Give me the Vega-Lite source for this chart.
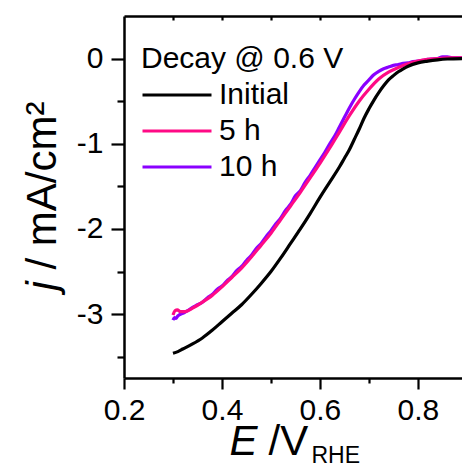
{
  "$schema": "https://vega.github.io/schema/vega-lite/v6.json",
  "width": 338,
  "height": 362,
  "autosize": {"type": "none"},
  "padding": {"left": 124, "top": 16, "right": 0, "bottom": 92},
  "background": "white",
  "config": {
    "view": {"stroke": null},
    "font": "Liberation Sans",
    "axis": {
      "grid": false,
      "domainColor": "black",
      "tickColor": "black",
      "labelColor": "black",
      "titleColor": "black",
      "domainWidth": 2.5,
      "tickWidth": 2.2,
      "labelFont": "Liberation Sans",
      "titleFont": "Liberation Sans",
      "titleFontWeight": "normal",
      "labelFontSize": 30,
      "labelFlush": false,
      "labelOverlap": false,
      "titleLimit": 500
    }
  },
  "data": {
    "values": [
      {"s": "10 h", "E": 0.300, "j": -3.07}, {"s": "10 h", "E": 0.303, "j": -3.04}, {"s": "10 h", "E": 0.306, "j": -3.05},
      {"s": "10 h", "E": 0.31, "j": -3.02}, {"s": "10 h", "E": 0.32, "j": -2.99}, {"s": "10 h", "E": 0.33, "j": -2.96},
      {"s": "10 h", "E": 0.34, "j": -2.92}, {"s": "10 h", "E": 0.35, "j": -2.89}, {"s": "10 h", "E": 0.36, "j": -2.86},
      {"s": "10 h", "E": 0.37, "j": -2.81}, {"s": "10 h", "E": 0.38, "j": -2.77}, {"s": "10 h", "E": 0.39, "j": -2.71},
      {"s": "10 h", "E": 0.40, "j": -2.67}, {"s": "10 h", "E": 0.41, "j": -2.61}, {"s": "10 h", "E": 0.42, "j": -2.56},
      {"s": "10 h", "E": 0.43, "j": -2.49}, {"s": "10 h", "E": 0.44, "j": -2.44}, {"s": "10 h", "E": 0.45, "j": -2.37},
      {"s": "10 h", "E": 0.46, "j": -2.31}, {"s": "10 h", "E": 0.47, "j": -2.23}, {"s": "10 h", "E": 0.48, "j": -2.17},
      {"s": "10 h", "E": 0.49, "j": -2.09}, {"s": "10 h", "E": 0.50, "j": -2.02}, {"s": "10 h", "E": 0.51, "j": -1.94},
      {"s": "10 h", "E": 0.52, "j": -1.87}, {"s": "10 h", "E": 0.53, "j": -1.78}, {"s": "10 h", "E": 0.54, "j": -1.71},
      {"s": "10 h", "E": 0.55, "j": -1.61}, {"s": "10 h", "E": 0.56, "j": -1.55}, {"s": "10 h", "E": 0.57, "j": -1.45},
      {"s": "10 h", "E": 0.58, "j": -1.37}, {"s": "10 h", "E": 0.59, "j": -1.28}, {"s": "10 h", "E": 0.60, "j": -1.19},
      {"s": "10 h", "E": 0.61, "j": -1.10}, {"s": "10 h", "E": 0.62, "j": -1.00}, {"s": "10 h", "E": 0.63, "j": -0.91},
      {"s": "10 h", "E": 0.64, "j": -0.80}, {"s": "10 h", "E": 0.65, "j": -0.69}, {"s": "10 h", "E": 0.66, "j": -0.58},
      {"s": "10 h", "E": 0.67, "j": -0.48}, {"s": "10 h", "E": 0.68, "j": -0.39}, {"s": "10 h", "E": 0.69, "j": -0.31},
      {"s": "10 h", "E": 0.70, "j": -0.25}, {"s": "10 h", "E": 0.71, "j": -0.19}, {"s": "10 h", "E": 0.72, "j": -0.15},
      {"s": "10 h", "E": 0.73, "j": -0.12}, {"s": "10 h", "E": 0.74, "j": -0.10}, {"s": "10 h", "E": 0.75, "j": -0.08},
      {"s": "10 h", "E": 0.76, "j": -0.07}, {"s": "10 h", "E": 0.77, "j": -0.055}, {"s": "10 h", "E": 0.78, "j": -0.05},
      {"s": "10 h", "E": 0.79, "j": -0.035}, {"s": "10 h", "E": 0.80, "j": -0.03}, {"s": "10 h", "E": 0.81, "j": -0.02},
      {"s": "10 h", "E": 0.82, "j": -0.01}, {"s": "10 h", "E": 0.83, "j": -0.005}, {"s": "10 h", "E": 0.84, "j": 0.0},
      {"s": "10 h", "E": 0.85, "j": 0.02}, {"s": "10 h", "E": 0.86, "j": 0.02}, {"s": "10 h", "E": 0.87, "j": 0.01},
      {"s": "10 h", "E": 0.88, "j": 0.01}, {"s": "10 h", "E": 0.89, "j": 0.01},
      {"s": "5 h", "E": 0.300, "j": -3.01}, {"s": "5 h", "E": 0.304, "j": -2.96}, {"s": "5 h", "E": 0.309, "j": -2.95},
      {"s": "5 h", "E": 0.315, "j": -2.97}, {"s": "5 h", "E": 0.325, "j": -2.97}, {"s": "5 h", "E": 0.34, "j": -2.93},
      {"s": "5 h", "E": 0.36, "j": -2.86}, {"s": "5 h", "E": 0.38, "j": -2.78}, {"s": "5 h", "E": 0.40, "j": -2.68},
      {"s": "5 h", "E": 0.42, "j": -2.57}, {"s": "5 h", "E": 0.44, "j": -2.46}, {"s": "5 h", "E": 0.46, "j": -2.33},
      {"s": "5 h", "E": 0.48, "j": -2.19}, {"s": "5 h", "E": 0.50, "j": -2.05}, {"s": "5 h", "E": 0.52, "j": -1.89},
      {"s": "5 h", "E": 0.54, "j": -1.73}, {"s": "5 h", "E": 0.56, "j": -1.57}, {"s": "5 h", "E": 0.58, "j": -1.40},
      {"s": "5 h", "E": 0.60, "j": -1.23}, {"s": "5 h", "E": 0.62, "j": -1.05}, {"s": "5 h", "E": 0.64, "j": -0.86},
      {"s": "5 h", "E": 0.66, "j": -0.67}, {"s": "5 h", "E": 0.68, "j": -0.50}, {"s": "5 h", "E": 0.70, "j": -0.36},
      {"s": "5 h", "E": 0.72, "j": -0.24}, {"s": "5 h", "E": 0.74, "j": -0.16}, {"s": "5 h", "E": 0.76, "j": -0.105},
      {"s": "5 h", "E": 0.78, "j": -0.06}, {"s": "5 h", "E": 0.80, "j": -0.03}, {"s": "5 h", "E": 0.82, "j": -0.01},
      {"s": "5 h", "E": 0.84, "j": 0.0}, {"s": "5 h", "E": 0.86, "j": 0.01}, {"s": "5 h", "E": 0.89, "j": 0.01},
      {"s": "Initial", "E": 0.300, "j": -3.46}, {"s": "Initial", "E": 0.31, "j": -3.44}, {"s": "Initial", "E": 0.32, "j": -3.41},
      {"s": "Initial", "E": 0.34, "j": -3.35}, {"s": "Initial", "E": 0.36, "j": -3.28}, {"s": "Initial", "E": 0.38, "j": -3.19},
      {"s": "Initial", "E": 0.40, "j": -3.09}, {"s": "Initial", "E": 0.42, "j": -2.99}, {"s": "Initial", "E": 0.44, "j": -2.89},
      {"s": "Initial", "E": 0.46, "j": -2.77}, {"s": "Initial", "E": 0.48, "j": -2.64}, {"s": "Initial", "E": 0.50, "j": -2.50},
      {"s": "Initial", "E": 0.52, "j": -2.34}, {"s": "Initial", "E": 0.54, "j": -2.17}, {"s": "Initial", "E": 0.56, "j": -2.00},
      {"s": "Initial", "E": 0.58, "j": -1.82}, {"s": "Initial", "E": 0.60, "j": -1.63}, {"s": "Initial", "E": 0.62, "j": -1.45},
      {"s": "Initial", "E": 0.64, "j": -1.27}, {"s": "Initial", "E": 0.65, "j": -1.17}, {"s": "Initial", "E": 0.66, "j": -1.07},
      {"s": "Initial", "E": 0.67, "j": -0.95}, {"s": "Initial", "E": 0.68, "j": -0.83}, {"s": "Initial", "E": 0.69, "j": -0.70},
      {"s": "Initial", "E": 0.70, "j": -0.59}, {"s": "Initial", "E": 0.71, "j": -0.49}, {"s": "Initial", "E": 0.72, "j": -0.40},
      {"s": "Initial", "E": 0.73, "j": -0.32}, {"s": "Initial", "E": 0.74, "j": -0.25}, {"s": "Initial", "E": 0.75, "j": -0.20},
      {"s": "Initial", "E": 0.76, "j": -0.155}, {"s": "Initial", "E": 0.77, "j": -0.12}, {"s": "Initial", "E": 0.78, "j": -0.09},
      {"s": "Initial", "E": 0.80, "j": -0.05}, {"s": "Initial", "E": 0.82, "j": -0.03}, {"s": "Initial", "E": 0.84, "j": -0.015},
      {"s": "Initial", "E": 0.86, "j": -0.005}, {"s": "Initial", "E": 0.89, "j": 0.0}
    ]
  },
  "resolve": {"axis": {"x": "independent", "y": "independent"}},
  "layer": [
    {
      "mark": {"type": "point", "opacity": 0},
      "encoding": {
        "x": {
          "field": "E", "type": "quantitative",
          "scale": {"domain": [0.2, 0.89], "nice": false, "zero": false},
          "axis": {
            "orient": "top", "values": [0.3, 0.4, 0.5, 0.6, 0.7, 0.8], "tickSize": -4, "labels": false,
            "title": "RHE", "titleFontSize": 23, "titleX": 187, "titleY": 446,
            "titleAlign": "left", "titleBaseline": "alphabetic", "titleAngle": 0
          }
        },
        "y": {"field": "j", "type": "quantitative", "scale": {"domain": [-3.75, 0.5], "nice": false, "zero": false}, "axis": null}
      }
    },
    {
      "mark": {"type": "point", "opacity": 0},
      "encoding": {
        "x": {
          "field": "E", "type": "quantitative",
          "axis": {
            "orient": "bottom", "values": [0.3, 0.5, 0.7], "tickSize": 5, "labels": false, "domain": false,
            "title": "/V", "titleFontSize": 42, "titleX": 144, "titleY": 76,
            "titleAlign": "left", "titleBaseline": "alphabetic", "titleAngle": 0
          }
        },
        "y": {
          "field": "j", "type": "quantitative",
          "axis": {
            "orient": "left", "values": [-0.5, -1.5, -2.5, -3.5], "tickSize": 7, "labels": false, "domain": false,
            "title": "/ mA/cm²", "titleFontSize": 42, "titleX": -69, "titleY": 253,
            "titleAlign": "left", "titleBaseline": "alphabetic", "titleAngle": 270
          }
        }
      }
    },
    {
      "mark": {"type": "line", "strokeWidth": 3.2, "clip": true, "interpolate": "monotone"},
      "encoding": {
        "x": {
          "field": "E", "type": "quantitative",
          "axis": {
            "orient": "bottom", "values": [0.2, 0.4, 0.6, 0.8], "format": ".1f", "tickSize": 11, "labelPadding": 6,
            "title": "E", "titleFontStyle": "italic", "titleFontSize": 42, "titleX": 105, "titleY": 76,
            "titleAlign": "left", "titleBaseline": "alphabetic", "titleAngle": 0
          }
        },
        "y": {
          "field": "j", "type": "quantitative",
          "axis": {
            "orient": "left", "values": [0, -1, -2, -3], "tickSize": 13, "labelPadding": 8,
            "labelExpr": "datum.value < 0 ? '-' + abs(datum.value) : '' + datum.value",
            "title": "j", "titleFontStyle": "italic", "titleFontSize": 42, "titleX": -69, "titleY": 274,
            "titleAlign": "left", "titleBaseline": "alphabetic", "titleAngle": 270
          }
        },
        "color": {
          "field": "s", "type": "nominal",
          "scale": {"domain": ["Initial", "5 h", "10 h"], "range": ["#000000", "#ff0a85", "#8a00ff"]},
          "legend": {
            "orient": "none", "legendX": 17, "legendY": 28, "padding": 0,
            "title": "Decay @ 0.6 V", "titleFontSize": 30, "titleFontWeight": "normal", "titleFont": "Liberation Sans",
            "titleColor": "black", "titlePadding": 3, "titleLimit": 500,
            "labelFontSize": 30, "labelFont": "Liberation Sans", "labelColor": "black", "labelOffset": 6, "labelLimit": 300,
            "symbolType": "stroke", "symbolSize": 4760, "symbolStrokeWidth": 3,
            "clipHeight": 36, "rowPadding": 0
          }
        }
      }
    }
  ]
}
